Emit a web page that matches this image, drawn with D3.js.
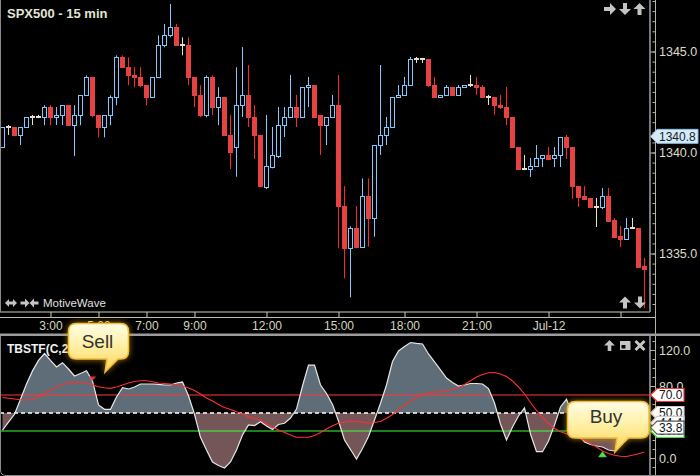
<!DOCTYPE html>
<html><head><meta charset="utf-8">
<script src="https://cdn.jsdelivr.net/npm/d3@7"></script>
<style>
html,body{margin:0;padding:0;background:#000;}
svg{display:block;font-family:"Liberation Sans",Arial,sans-serif;}
</style></head><body>
<svg id="chart" width="700" height="476"></svg>
<script>
// ---------- DATA ----------
const opens = [1340.26,1341.26,1341.25,1340.85,1341.25,1341.74,1341.74,1341.74,1342.24,1341.74,
1341.84,1342.34,1341.35,1341.84,1342.83,1343.72,1341.84,1341.25,1341.84,1342.73,
1344.71,1344.22,1343.82,1343.72,1343.33,1342.73,1343.72,1345.31,1345.80,1346.20,
1345.31,1345.31,1343.72,1342.83,1341.84,1343.72,1342.24,1342.73,1340.85,1340.26,
1342.35,1342.85,1341.76,1340.87,1338.31,1339.30,1339.84,1341.36,1341.76,1342.25,
1341.76,1343.24,1343.34,1341.86,1341.36,1341.76,1342.35,1337.35,1335.26,1336.25,
1335.34,1337.83,1336.74,1340.37,1340.87,1341.26,1342.75,1342.85,1343.34,1344.63,
1344.63,1344.63,1343.34,1342.75,1342.85,1343.24,1342.85,1343.24,1343.34,1343.34,
1343.24,1342.75,1342.75,1342.35,1342.25,1341.76,1340.27,1339.18,1339.18,1339.33,
1339.73,1339.88,1339.73,1339.88,1340.77,1340.27,1338.34,1337.85,1337.75,1337.30,
1337.30,1337.85,1336.66,1335.87,1335.72,1336.26,1336.26,1334.38];
const highs = [1341.25,1341.36,1341.25,1341.25,1341.74,1341.86,1341.86,1342.34,1342.34,1342.25,
1342.34,1342.34,1342.34,1342.83,1343.82,1343.72,1341.84,1341.84,1342.83,1344.81,
1344.81,1344.71,1344.22,1344.22,1343.33,1343.72,1345.80,1346.36,1347.35,1346.36,
1345.70,1345.70,1343.72,1343.33,1343.82,1343.82,1343.23,1342.73,1341.84,1344.22,
1345.22,1344.33,1342.35,1340.87,1341.86,1341.26,1342.25,1342.25,1343.84,1342.85,
1343.24,1343.74,1343.34,1341.86,1341.76,1342.85,1343.84,1338.34,1336.35,1337.35,
1338.72,1338.72,1340.37,1344.33,1341.76,1342.75,1343.34,1343.74,1344.73,1344.73,
1344.63,1344.63,1343.74,1342.85,1343.34,1343.24,1343.34,1343.34,1343.84,1343.74,
1343.34,1342.85,1342.75,1342.85,1343.24,1341.76,1340.27,1339.88,1339.73,1340.37,
1339.88,1340.27,1340.27,1340.77,1340.87,1340.27,1338.34,1338.34,1337.75,1337.75,
1338.24,1338.24,1336.76,1336.36,1336.76,1336.76,1336.26,1334.78];
const lows = [1340.26,1340.87,1340.85,1340.37,1341.25,1341.36,1341.70,1341.35,1341.35,1341.36,
1341.36,1341.35,1339.83,1341.35,1342.83,1341.74,1340.75,1340.75,1341.35,1342.34,
1344.22,1343.33,1343.23,1343.23,1342.34,1342.73,1343.72,1345.21,1345.70,1345.31,
1344.81,1343.33,1342.24,1341.74,1341.74,1341.86,1341.35,1340.85,1339.18,1338.80,
1341.76,1341.26,1339.68,1338.34,1338.19,1339.22,1339.73,1340.77,1341.76,1341.26,
1341.76,1342.25,1341.76,1339.88,1340.37,1341.76,1335.26,1333.77,1332.83,1335.26,
1335.34,1335.34,1335.83,1339.88,1340.37,1341.26,1342.75,1342.85,1343.34,1344.43,
1344.43,1343.24,1342.75,1342.75,1342.85,1342.85,1342.85,1343.24,1343.24,1342.85,
1342.75,1342.35,1341.86,1342.15,1341.36,1340.27,1339.18,1339.18,1338.79,1339.28,
1339.28,1339.68,1339.28,1339.28,1339.68,1337.70,1337.30,1337.70,1337.30,1336.31,
1337.20,1336.61,1335.82,1335.32,1335.72,1336.26,1334.33,1332.30];
const closes = [1341.25,1341.26,1340.85,1341.25,1341.74,1341.74,1341.74,1342.24,1341.74,1341.84,
1342.34,1341.35,1341.84,1342.83,1343.72,1341.84,1341.25,1341.84,1342.73,1344.71,
1344.22,1343.82,1343.72,1343.33,1342.73,1343.72,1345.31,1345.80,1346.20,1345.31,
1345.31,1343.72,1342.83,1341.84,1343.72,1342.24,1342.73,1340.85,1340.02,1342.34,
1342.85,1341.76,1340.87,1338.34,1339.33,1339.88,1341.36,1341.76,1342.25,1341.76,
1343.24,1343.34,1341.76,1341.36,1341.76,1342.35,1337.35,1335.26,1336.25,1335.34,
1337.83,1336.74,1340.37,1340.87,1341.26,1342.75,1342.85,1343.34,1344.63,1344.63,
1344.63,1343.34,1342.75,1342.85,1343.24,1342.85,1343.24,1343.34,1343.34,1343.24,
1342.75,1342.75,1342.35,1342.25,1341.76,1340.27,1339.18,1339.18,1339.33,1339.73,
1339.88,1339.68,1339.88,1340.77,1340.27,1338.34,1337.80,1337.70,1337.30,1337.30,
1337.85,1336.61,1335.82,1335.72,1336.26,1336.26,1334.33,1334.23];

const tbstf = [31,39.8,48.6,65.3,82.3,96.8,108.4,116.1,108.4,101.1,
105.9,98.9,91.1,93.9,97,85.6,58.9,54.1,54.1,67.8,
78.1,76.7,78.9,82.2,82.2,82.2,81.7,81.1,81.1,83.3,
84.4,69.2,48.6,23,8.9,-4.4,-8.3,-11.1,-4.4,8.9,
25.6,36.7,36.1,40.3,35.6,31.7,37.2,38.6,44.4,54.4,
80,103.3,103.3,81.1,71.7,59.4,41.1,20,9.4,-1.1,
10.6,23.9,42.2,60.8,81.1,107.2,118.9,123.8,128.3,127.4,
126.7,115.6,106.7,97.8,88.9,83.9,80,81.1,82.8,82.8,
82.2,77.2,61.1,37.8,20,34.4,46.7,55.6,26.7,7,
7,18.9,36.7,56.7,65.2,47.8,25.6,17.8,15,13.3,
12.2,8.9,7.8,14.4,20,26.7,31.1,33.8];
const signal = [67.2,66.4,65.6,64.7,64.4,65,67.8,71.7,75.6,78.9,
81.7,83.3,84.4,84.1,83.3,81.4,79.2,78.1,77.4,78.9,
81.1,83.3,85,85.9,85.9,84.7,83.3,82.8,82.2,81.1,
80,77.8,75,71.1,66.7,63.3,59.4,56.1,53.9,51.3,
48.9,45.9,43.9,42.2,37.8,34.4,31.1,28.3,25.6,23.1,
23,23,25,28.3,32.2,35.8,38.6,40,41.1,40.6,
40,38.9,39.4,40.6,44.2,48.3,53.9,58.3,62.8,67.2,
70.6,72.2,73,73.7,74.9,76.1,78,81.7,85.9,90,
92.8,94.8,95,93.3,90.6,85.6,78.9,71.1,61.7,52.8,
45,38.3,32.8,29.2,26.9,24.7,22.2,19.6,16.1,12.2,
7.8,5,3.1,2,1.7,3,4.8,6.7];

const timeTickIdx = [8,16,24,32,44,56,67,79,91,103];
const timeTickLabels = ["3:00","5:00","7:00","9:00","12:00","15:00","18:00","21:00","Jul-12",""];
const priceTicks = [1335,1340,1345];
const indTicks = [0,80,120];
const levels = {upper:70, mid:50, lower:30};
const sellIdx = [15];
const buyIdx = [100];
const lastPrice = 1340.8;
const valueTags = [
  {v:30, text:"30.0", stroke:"#33ee33"},
  {v:50, text:"50.0", stroke:"#cccccc"},
  {v:39, text:"44.4", stroke:"#cccccc"},
  {v:33.8, text:"33.8", stroke:"#555555"},
  {v:70, text:"70.0", stroke:"#ff3030"}
];

// ---------- SETUP ----------
const N = opens.length;
const svg = d3.select("#chart");
svg.append("rect").attr("width",700).attr("height",476).attr("fill","#000");

const x = d3.scaleLinear().domain([0, N-1]).range([2.5, 644.5]);
const yP = d3.scaleLinear().domain([1340,1345]).range([152.5, 51.5]);
const yI = d3.scaleLinear().domain([0,120]).range([458,350]);

const defs = svg.append("defs");
defs.append("clipPath").attr("id","clipTop").append("rect").attr("x",0).attr("y",0).attr("width",650).attr("height",312);
defs.append("clipPath").attr("id","clipBot").append("rect").attr("x",0).attr("y",336).attr("width",650).attr("height",139);
defs.append("clipPath").attr("id","clipAbove").append("rect").attr("x",0).attr("y",336).attr("width",650).attr("height",yI(levels.mid)-336);
defs.append("clipPath").attr("id","clipBelow").append("rect").attr("x",0).attr("y",yI(levels.mid)).attr("width",650).attr("height",476-yI(levels.mid));
defs.append("clipPath").attr("id","clipAxTop").append("rect").attr("x",640).attr("y",0).attr("width",60).attr("height",312);
defs.append("clipPath").attr("id","clipAxBot").append("rect").attr("x",640).attr("y",337).attr("width",60).attr("height",138);
const grad = defs.append("linearGradient").attr("id","cg").attr("x1",0).attr("y1",0).attr("x2",0).attr("y2",1);
grad.append("stop").attr("offset","0%").attr("stop-color","#fffde6");
grad.append("stop").attr("offset","45%").attr("stop-color","#fff0a6");
grad.append("stop").attr("offset","100%").attr("stop-color","#ffd45a");
const glow = defs.append("filter").attr("id","glow").attr("x","-30%").attr("y","-30%").attr("width","160%").attr("height","160%");
glow.append("feGaussianBlur").attr("in","SourceAlpha").attr("stdDeviation",3).attr("result","b");
glow.append("feFlood").attr("flood-color","#e0a000").attr("flood-opacity",0.7);
glow.append("feComposite").attr("in2","b").attr("operator","in").attr("result","g");
const fm = glow.append("feMerge");
fm.append("feMergeNode").attr("in","g");
fm.append("feMergeNode").attr("in","SourceGraphic");

// ---------- CANDLES ----------
const data = d3.range(N).map(i=>({i,o:opens[i],h:highs[i],l:lows[i],c:closes[i]}));
const kind = d => d.c>d.o ? "up" : (d.c<d.o ? "down" : "doji");
const wickCol = {up:"#7ccaff", down:"#ff2626", doji:"#e6e2c8"};
const gC = svg.append("g").attr("clip-path","url(#clipTop)");
gC.selectAll("line.w").data(data).join("line").attr("class","w")
  .attr("x1",d=>x(d.i)).attr("x2",d=>x(d.i))
  .attr("y1",d=>yP(d.h)).attr("y2",d=>yP(d.l))
  .attr("stroke",d=>wickCol[kind(d)]).attr("stroke-width",1);
gC.selectAll("rect.up").data(data.filter(d=>kind(d)==="up")).join("rect").attr("class","up")
  .attr("x",d=>x(d.i)-2).attr("width",4)
  .attr("y",d=>Math.round(yP(d.c))+0.5)
  .attr("height",d=>Math.max(1,Math.round(yP(d.o))-Math.round(yP(d.c))))
  .attr("fill","#000").attr("stroke","#7ccaff").attr("stroke-width",1);
gC.selectAll("rect.dn").data(data.filter(d=>kind(d)==="down")).join("rect").attr("class","dn")
  .attr("x",d=>x(d.i)-2.5).attr("width",5)
  .attr("y",d=>Math.round(yP(d.o)))
  .attr("height",d=>Math.max(2,Math.round(yP(d.c))-Math.round(yP(d.o))+1))
  .attr("fill","#e64242");
gC.selectAll("rect.dj").data(data.filter(d=>kind(d)==="doji")).join("rect").attr("class","dj")
  .attr("x",d=>x(d.i)-2.5).attr("width",5)
  .attr("y",d=>Math.round(yP(d.o))-1).attr("height",2)
  .attr("fill","#e6e2c8");

// ---------- FRAMES ----------
svg.append("line").attr("x1",0.5).attr("x2",0.5).attr("y1",0).attr("y2",312).attr("stroke","#8a8a8a");
svg.append("line").attr("x1",650).attr("x2",650).attr("y1",0).attr("y2",312).attr("stroke","#a0a0a0").attr("stroke-width",1.5);
svg.append("line").attr("x1",650).attr("x2",650).attr("y1",336).attr("y2",476).attr("stroke","#a0a0a0").attr("stroke-width",1.5);
svg.append("line").attr("x1",655.5).attr("x2",655.5).attr("y1",0).attr("y2",476).attr("stroke","#b4b4a0");

// price axis
const gPA = svg.append("g").attr("clip-path","url(#clipAxTop)");
const minorP = d3.range(1332, 1348.01, 0.5);
gPA.append("g").attr("transform","translate(655.5,0)")
  .call(d3.axisLeft(yP).tickValues(minorP).tickSize(3).tickSizeOuter(0).tickFormat(""))
  .call(g=>g.select(".domain").remove())
  .call(g=>g.selectAll("line").attr("stroke","#b4b4a0"));
gPA.append("g").attr("transform","translate(650,0)")
  .call(d3.axisRight(yP).tickValues(priceTicks).tickSize(6).tickPadding(3).tickFormat(d3.format(".1f")))
  .call(g=>g.select(".domain").remove())
  .call(g=>g.selectAll("line").attr("stroke","#b4b4a0"))
  .call(g=>g.selectAll("text").attr("fill","#dcdcc8").style("font-size","12.5px").style("font-family","Liberation Sans, Arial"));

// last price tag
const lp = yP(lastPrice);
svg.append("path").attr("d",`M650.5,${lp} L657,${lp-7} H698 V${lp+7} H657 Z`)
  .attr("fill","#d2eafa").attr("stroke","#8fbcd8");
svg.append("text").attr("x",659).attr("y",lp).attr("dy","0.35em").text(lastPrice.toFixed(1))
  .attr("fill","#1a1a1a").style("font-size","12px");

// time axis
svg.append("line").attr("x1",0).attr("x2",650).attr("y1",312).attr("y2",312).attr("stroke","#8a8a78").attr("stroke-width",1.5);
svg.append("line").attr("x1",0).attr("x2",655).attr("y1",317.5).attr("y2",317.5).attr("stroke","#bdbda8");
svg.append("g").attr("transform","translate(0,312)")
  .call(d3.axisBottom(x).tickValues(timeTickIdx).tickSize(5).tickPadding(4)
     .tickFormat((d,k)=>timeTickLabels[k]))
  .call(g=>g.select(".domain").remove())
  .call(g=>g.selectAll("line").attr("stroke","#d0d0b8"))
  .call(g=>g.selectAll("text").attr("fill","#d6d6be").style("font-size","12px").style("font-family","Liberation Sans, Arial"));

// pane separator
svg.append("rect").attr("x",0).attr("y",333.5).attr("width",700).attr("height",2.5).attr("fill","#9c9c9c");

// ---------- TITLE & ICONS ----------
svg.append("text").attr("x",7).attr("y",17.5).text("SPX500 - 15 min")
  .attr("fill","#e4e4d4").style("font-size","13px").style("font-weight","bold");
svg.append("text").attr("x",43).attr("y",307).text("MotiveWave")
  .attr("fill","#e0e0e0").style("font-size","11.5px");

const iconCol = "#c4c4c4";
function arrow(cx, cy, rot, s){
  const p = "M-6,-2 L0,-2 L0,-6 L6,0 L0,6 L0,2 L-6,2 Z";
  svg.append("path").attr("d",p).attr("fill",iconCol)
    .attr("transform",`translate(${cx},${cy}) rotate(${rot}) scale(${s||1})`);
}
arrow(610,9,0); arrow(625,9,90); arrow(639.5,9,-90);
arrow(625,302.5,-90); arrow(640,302.5,90);
arrow(25,303,0,0.75); arrow(34,303,180,0.75);
svg.append("path").attr("d","M-6,0 L-2,-4 L-2,-1.5 L2,-1.5 L2,-4 L6,0 L2,4 L2,1.5 L-2,1.5 L-2,4 Z")
  .attr("transform","translate(11,303)").attr("fill",iconCol);
arrow(609.5,345.5,-90,0.9);
svg.append("rect").attr("x",620).attr("y",341).attr("width",10.5).attr("height",9).attr("fill",iconCol);
svg.append("rect").attr("x",621.5).attr("y",345).attr("width",4).attr("height",3.5).attr("fill","#000");
svg.append("path").attr("d","M635.5,341 L644.5,350 M644.5,341 L635.5,350").attr("stroke",iconCol).attr("stroke-width",3);

// ---------- INDICATOR ----------
const gI = svg.append("g").attr("clip-path","url(#clipBot)");
const area = d3.area().x((d,i)=>x(i)).y0(yI(levels.mid)).y1(d=>yI(d));
gI.append("path").datum(tbstf).attr("d",area).attr("fill","#5e6d78").attr("clip-path","url(#clipAbove)");
gI.append("path").datum(tbstf).attr("d",area).attr("fill","#745659").attr("clip-path","url(#clipBelow)");
gI.append("line").attr("x1",0).attr("x2",650).attr("y1",yI(levels.upper)).attr("y2",yI(levels.upper)).attr("stroke","#ff3838");
gI.append("line").attr("x1",0).attr("x2",650).attr("y1",yI(levels.lower)).attr("y2",yI(levels.lower)).attr("stroke","#3cff3c");
gI.append("line").attr("x1",0).attr("x2",650).attr("y1",yI(levels.mid)).attr("y2",yI(levels.mid))
  .attr("stroke","#ffffff").attr("stroke-width",1.5).attr("stroke-dasharray","4,3");
const line = d3.line().x((d,i)=>x(i)).y(d=>yI(d));
gI.append("path").datum(tbstf).attr("d",line).attr("fill","none").attr("stroke","#e6e6e6").attr("stroke-width",1.2);
gI.append("path").datum(signal).attr("d",line).attr("fill","none").attr("stroke","#ff3030").attr("stroke-width",1.1);
sellIdx.forEach(i=>{
  const cx=x(i), cy=yI(tbstf[i]);
  gI.append("path").attr("d",`M${cx-3.5},${cy-4.5} L${cx+3.5},${cy-4.5} L${cx},${cy} Z`).attr("fill","#e83030");
});
buyIdx.forEach(i=>{
  const cx=x(i), cy=yI(tbstf[i]);
  gI.append("path").attr("d",`M${cx-4},${cy+10} L${cx+4},${cy+10} L${cx},${cy+4.5} Z`).attr("fill","#55e055").attr("stroke","#2fbf2f").attr("stroke-width",0.6);
});

// lower axis
const gIA = svg.append("g").attr("clip-path","url(#clipAxBot)");
gIA.append("g").attr("transform","translate(655.5,0)")
  .call(d3.axisLeft(yI).tickValues(d3.range(-20,131,10)).tickSize(3).tickSizeOuter(0).tickFormat(""))
  .call(g=>g.select(".domain").remove())
  .call(g=>g.selectAll("line").attr("stroke","#b4b4a0"));
gIA.append("g").attr("transform","translate(650,0)")
  .call(d3.axisRight(yI).tickValues(indTicks).tickSize(6).tickPadding(3).tickFormat(d3.format(".1f")))
  .call(g=>g.select(".domain").remove())
  .call(g=>g.selectAll("line").attr("stroke","#b4b4a0"))
  .call(g=>g.selectAll("text").attr("fill","#dcdcc8").style("font-size","12.5px").style("font-family","Liberation Sans, Arial"));

// value tags
valueTags.forEach(t=>{
  const cy = yI(t.v);
  svg.append("path").attr("d",`M650.5,${cy} L657,${cy-6.5} H684 V${cy+6.5} H657 Z`)
    .attr("fill","#ffffff").attr("stroke",t.stroke).attr("stroke-width",1.2);
  svg.append("text").attr("x",659).attr("y",cy).attr("dy","0.36em").text(t.text)
    .attr("fill","#111").style("font-size","12px");
});

// lower pane border
svg.append("path").attr("d","M0.5,336 V470 Q0.5,475.5 6,475.5 H700").attr("fill","none").attr("stroke","#8a8a8a");

svg.append("text").attr("x",7).attr("y",352.5).text("TBSTF(C,20,5)")
  .attr("fill","#f0f0f0").style("font-size","12px").style("font-weight","bold");

// ---------- CALLOUTS ----------
function callout(x0,y0,x1,y1,r,bx0,bx1,tx,ty,label,lx,ly){
  const d = `M${x0+r},${y0} H${x1-r} Q${x1},${y0} ${x1},${y0+r} V${y1-r} Q${x1},${y1} ${x1-r},${y1} H${bx1} L${tx},${ty} L${bx0},${y1} H${x0+r} Q${x0},${y1} ${x0},${y1-r} V${y0+r} Q${x0},${y0} ${x0+r},${y0} Z`;
  svg.append("path").attr("d",d).attr("fill","url(#cg)").attr("stroke","#f0bd36").attr("stroke-width",1.5).attr("filter","url(#glow)");
  svg.append("text").attr("x",lx).attr("y",ly).attr("text-anchor","middle").text(label)
    .attr("fill","#333").style("font-size","19px");
}
callout(68.5,323.5,128.5,359,8,107,118,105,372,"Sell",97.5,347.5);
callout(567.5,401.5,649,438,8,617,628,615,452,"Buy",606,423);
</script>
</body></html>
